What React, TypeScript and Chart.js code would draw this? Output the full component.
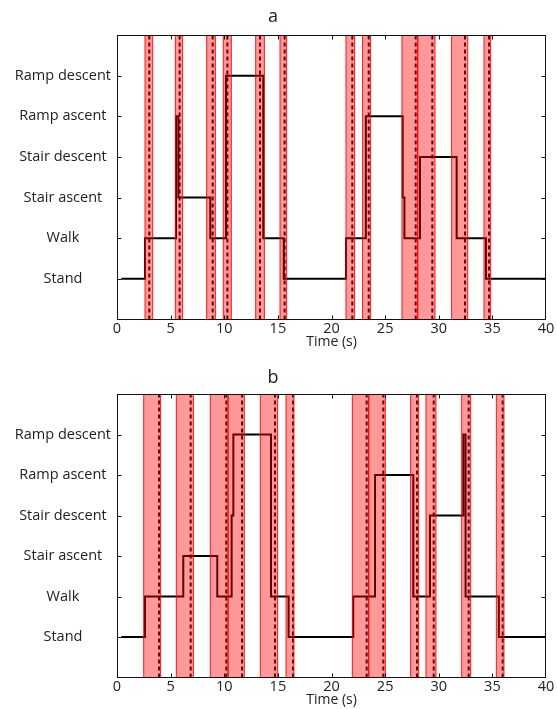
import React, { useEffect, useRef } from "react";
import { Chart, registerables } from "chart.js";

Chart.register(...registerables);

// ---------- data ----------
const yLabels = ["", "Stand", "Walk", "Stair ascent", "Stair descent", "Ramp ascent", "Ramp descent", ""];
const xTicks = [0, 5, 10, 15, 20, 25, 30, 35, 40];

// Panel a
const stepTimesA = [0.4, 2.61, 5.5, 5.72, 8.7, 10.16, 13.64, 15.55, 21.35, 23.2, 26.64, 26.8, 28.25, 31.67, 34.4, 40];
const stepLevelsA = [1, 2, 5, 3, 2, 6, 2, 1, 2, 5, 3, 2, 4, 2, 1, 1];
const bandStartA = [2.61, 5.44, 8.36, 9.91, 12.93, 15.2, 21.35, 22.9, 26.57, 28.04, 31.2, 34.22];
const bandEndA = [3.33, 6.12, 9.17, 10.66, 13.74, 15.82, 22.16, 23.65, 28.04, 29.65, 32.7, 34.84];
const dashA = [3.01, 5.84, 8.92, 10.29, 13.33, 15.63, 21.94, 23.47, 27.85, 29.4, 32.45, 34.69];

// Panel b
const stepTimesB = [0.4, 2.61, 6.18, 9.35, 10.69, 10.85, 14.36, 16.0, 22.03, 24.06, 27.63, 29.18, 32.29, 32.5, 35.6, 40];
const stepLevelsB = [1, 2, 3, 2, 4, 6, 2, 1, 2, 5, 2, 4, 6, 2, 1, 1];
const bandStartB = [2.49, 5.53, 8.7, 10.35, 13.36, 15.76, 21.94, 23.47, 27.38, 28.81, 32.14, 35.37];
const bandEndB = [4.07, 7.12, 10.35, 11.87, 14.98, 16.5, 23.47, 25.02, 28.13, 29.74, 32.98, 36.08];
const dashB = [3.92, 6.87, 10.19, 11.66, 14.73, 16.41, 23.28, 24.83, 27.97, 29.53, 32.79, 35.96];

const FONT = "'Open Sans', 'Noto Sans', sans-serif";
const TEXT = "#222";

const bandPlugin = {
  id: "bands",
  afterDatasetsDraw(chart: any, _args: any, opts: any) {
    const { ctx, chartArea, scales } = chart;
    const xs = scales.x;
    const ys = scales.y;
    const top = ys.getPixelForValue(7);
    const bottom = ys.getPixelForValue(0);
    ctx.save();
    ctx.beginPath();
    ctx.rect(chartArea.left, chartArea.top, chartArea.right - chartArea.left, chartArea.bottom - chartArea.top);
    ctx.clip();
    const starts: number[] = opts.starts || [];
    const ends: number[] = opts.ends || [];
    starts.forEach((s, i) => {
      const x1 = xs.getPixelForValue(s);
      const x2 = xs.getPixelForValue(ends[i]);
      ctx.fillStyle = "rgba(255,0,0,0.4)";
      ctx.fillRect(x1, top, x2 - x1, bottom - top);
      ctx.strokeStyle = "rgba(255,0,0,0.9)";
      ctx.lineWidth = 1;
      ctx.beginPath();
      ctx.moveTo(x1, top);
      ctx.lineTo(x1, bottom);
      ctx.moveTo(x2, top);
      ctx.lineTo(x2, bottom);
      ctx.stroke();
    });
    ctx.restore();
  },
};

const boxPlugin = {
  id: "box",
  afterDraw(chart: any) {
    const { ctx, chartArea, scales } = chart;
    const L = Math.round(chartArea.left) + 0.5;
    const R = Math.round(chartArea.right) - 0.5;
    const T = Math.round(chartArea.top) + 0.5;
    const B = Math.round(chartArea.bottom) - 0.5;
    ctx.save();
    ctx.strokeStyle = "#111";
    ctx.lineWidth = 1;
    ctx.strokeRect(L, T, R - L, B - T);
    ctx.beginPath();
    const tl = 4;
    scales.x.ticks.forEach((t: any) => {
      const px = Math.round(scales.x.getPixelForValue(t.value)) + 0.5;
      if (px <= L + 1 || px >= R - 1) return;
      ctx.moveTo(px, T);
      ctx.lineTo(px, T + tl);
      ctx.moveTo(px, B);
      ctx.lineTo(px, B - tl);
    });
    scales.y.ticks.forEach((t: any) => {
      if (!yLabels[t.value]) return;
      const py = Math.round(scales.y.getPixelForValue(t.value)) + 0.5;
      ctx.moveTo(L, py);
      ctx.lineTo(L + tl, py);
      ctx.moveTo(R, py);
      ctx.lineTo(R - tl, py);
    });
    ctx.stroke();
    ctx.restore();
  },
};

type PanelProps = {
  title: string;
  times: number[];
  levels: number[];
  starts: number[];
  ends: number[];
  dashes: number[];
  height: number;
  titleTop: number;
  titleBottom: number;
  padBottom: number;
};

function Panel(p: PanelProps) {
  const ref = useRef<HTMLCanvasElement | null>(null);
  useEffect(() => {
    if (!ref.current) return;
    const datasets: any[] = [
      {
        label: "class",
        data: p.times.map((t, i) => ({ x: t, y: p.levels[i] })),
        stepped: "before",
        borderColor: "#000",
        borderWidth: 2,
        pointRadius: 0,
        fill: false,
      },
    ];
    p.dashes.forEach((d, i) => {
      datasets.push({
        label: "d" + i,
        data: [
          { x: d, y: 0 },
          { x: d, y: 7 },
        ],
        borderColor: "#000",
        borderWidth: 2,
        borderDash: [4, 3],
        pointRadius: 0,
        fill: false,
      });
    });
    const chart = new Chart(ref.current, {
      type: "line",
      data: { datasets },
      options: {
        animation: false,
        responsive: false,
        maintainAspectRatio: false,
        layout: { padding: { left: 0, right: 11, top: 0, bottom: p.padBottom } },
        plugins: {
          legend: { display: false },
          tooltip: { enabled: false },
          title: {
            display: true,
            text: p.title,
            color: TEXT,
            font: { family: FONT, size: 18, weight: "normal", lineHeight: 1.2 },
            padding: { top: p.titleTop, bottom: p.titleBottom },
          },
          bands: { starts: p.starts, ends: p.ends },
        } as any,
        scales: {
          x: {
            type: "linear",
            min: 0,
            max: 40,
            grid: { display: false, drawTicks: false },
            border: { display: false },
            afterBuildTicks: (axis: any) => {
              axis.ticks = xTicks.map((v) => ({ value: v }));
            },
            ticks: {
              color: TEXT,
              padding: 2,
              maxRotation: 0,
              autoSkip: false,
              font: { family: FONT, size: 14.5, lineHeight: 1 },
            },
            title: {
              display: true,
              text: "Time (s)",
              color: TEXT,
              padding: { top: -3, bottom: 0 },
              font: { family: FONT, size: 14, lineHeight: 1 },
            },
          },
          y: {
            type: "linear",
            min: 0,
            max: 7,
            grid: { display: false, drawTicks: false },
            border: { display: false },
            afterFit: (axis: any) => {
              axis.width = 117;
            },
            ticks: {
              stepSize: 1,
              color: TEXT,
              padding: 6,
              crossAlign: "center",
              font: { family: FONT, size: 14.5, lineHeight: 1.2 },
              callback: (v: any) => yLabels[v] ?? "",
            },
          },
        },
      } as any,
      plugins: [bandPlugin, boxPlugin],
    });
    return () => chart.destroy();
  }, []);
  return <canvas ref={ref} width={557} height={p.height} style={{ display: "block", width: 557, height: p.height }} />;
}

export default function App() {
  return (
    <div style={{ position: "absolute", left: 0, top: 0, width: 557, height: 709, background: "#fff" }}>
      <Panel
        title="a"
        times={stepTimesA}
        levels={stepLevelsA}
        starts={bandStartA}
        ends={bandEndA}
        dashes={dashA}
        height={355}
        titleTop={6}
        titleBottom={7.4}
        padBottom={6}
      />
      <Panel
        title="b"
        times={stepTimesB}
        levels={stepLevelsB}
        starts={bandStartB}
        ends={bandEndB}
        dashes={dashB}
        height={354}
        titleTop={12}
        titleBottom={5.4}
        padBottom={2}
      />
    </div>
  );
}
